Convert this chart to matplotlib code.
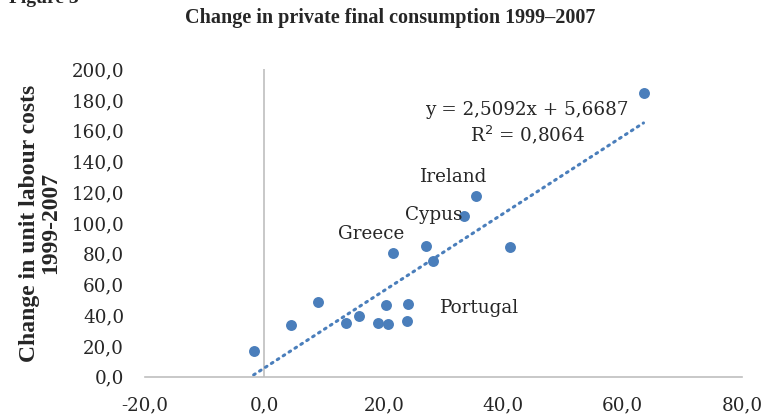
import matplotlib
matplotlib.use("Agg")
import matplotlib.pyplot as plt
import numpy as np

# Data
consumption_change = [-1.8, 4.5, 9.0, 13.6, 15.9, 19.0, 20.4, 20.7, 24.0, 23.9,
                      21.6, 27.1, 28.3, 33.5, 35.4, 41.1, 63.5]
ulc_change = [16.9, 33.4, 48.3, 35.2, 39.5, 35.0, 46.4, 34.5, 47.1, 36.5,
              80.5, 85.1, 75.2, 104.4, 117.4, 84.1, 184.6]
trend_slope = 2.5092
trend_intercept = 5.6687
r_squared = 0.8064
country_labels = ["Ireland", "Cypus", "Greece", "Portugal"]
label_pos_x = [31.7, 28.4, 17.9, 36.0]
label_pos_y = [130.0, 105.1, 92.9, 44.6]
x_ticks = [-20, 0, 20, 40, 60, 80]
y_ticks = [0, 20, 40, 60, 80, 100, 120, 140, 160, 180, 200]

BLUE = "#4a7ebb"
GRAY = "#bfbfbf"
TXT = "#262626"
FS = 13.2

fig = plt.figure(figsize=(7.63, 4.19), dpi=100)
ax = fig.add_axes([0.190, 0.101, 0.7825, 0.734])

ax.scatter(consumption_change, ulc_change, s=62, color=BLUE, zorder=3, linewidths=0)

xs = np.array([min(consumption_change), max(consumption_change)])
ax.plot(xs, trend_slope * xs + trend_intercept, color=BLUE, linewidth=2.2,
        linestyle=(0, (0.6, 1.7)), dash_capstyle="round", zorder=2)

ax.set_xlim(-20, 80)
ax.set_ylim(0, 200)
ax.set_xticks(x_ticks)
ax.set_yticks(y_ticks)
fmt = lambda v: f"{v:.1f}".replace(".", ",")
ax.set_xticklabels([fmt(v) for v in x_ticks])
ax.set_yticklabels([fmt(v) for v in y_ticks])

for sp in ["top", "right", "left"]:
    ax.spines[sp].set_visible(False)
ax.spines["bottom"].set_color(GRAY)
ax.spines["bottom"].set_linewidth(1.2)
ax.axvline(0, color=GRAY, linewidth=1.2, zorder=1)
ax.tick_params(axis="both", length=0, labelsize=FS, colors=TXT)
ax.tick_params(axis="x", pad=14)
ax.tick_params(axis="y", pad=15)
for lab in ax.get_xticklabels() + ax.get_yticklabels():
    lab.set_fontfamily("DejaVu Serif")

for name, px, py in zip(country_labels, label_pos_x, label_pos_y):
    ax.text(px, py, name, ha="center", va="center", fontsize=FS,
            family="DejaVu Serif", color=TXT)

eq = f"y = {trend_slope:.4f}x + {trend_intercept:.4f}".replace(".", ",")
ax.text(44.0, 173.3, eq, ha="center", va="center", fontsize=FS,
        family="DejaVu Serif", color=TXT)
ax.text(44.1, 157.1, ("R$^2$ = " + f"{r_squared:.4f}").replace(".", ","),
        ha="center", va="center", fontsize=FS, family="DejaVu Serif", color=TXT)

fig.text(40 / 763, 1 - 223 / 419, "Change in unit labour costs\n1999-2007",
         rotation=90, ha="center", va="center", fontsize=17,
         family="Liberation Serif", fontweight="bold", color=TXT,
         linespacing=1.05, multialignment="center")

fig.text(0.511, 0.957, "Change in private final consumption 1999\u20132007",
         ha="center", va="center", fontsize=14.5, family="Liberation Serif",
         fontweight="bold", color=TXT)
fig.text(0.012, 1.003, "Figure 3", ha="left", va="center", fontsize=14,
         family="Liberation Serif", fontweight="bold", color=TXT)

fig.savefig("out.png", dpi=100)
